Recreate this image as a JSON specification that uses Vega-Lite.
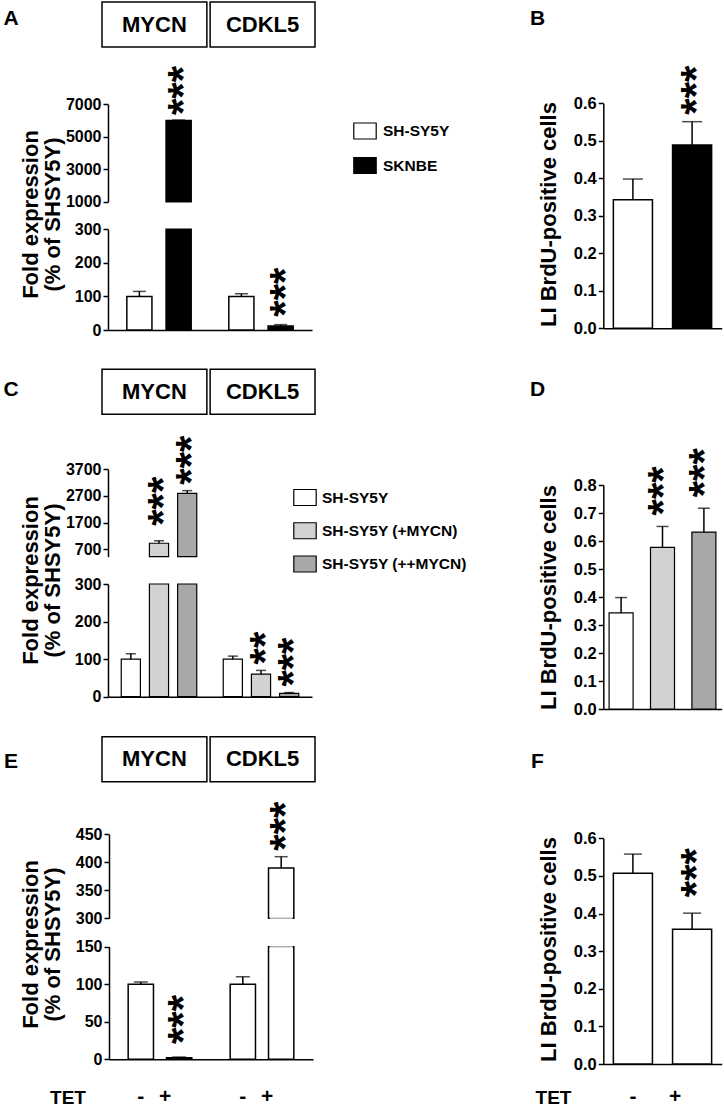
{
"$schema": "https://vega.github.io/schema/vega-lite/v6.json",
"width": 724, "height": 1111,
"autosize": {"type": "none"},
"padding": 0,
"background": "white",
"config": {
  "font": "Liberation Sans",
  "view": {"stroke": null},
  "axis": {"domainColor": "#000", "domainWidth": 1.5, "tickColor": "#000", "tickWidth": 1.5, "tickSize": 5, "labelColor": "#000", "labelFontWeight": "bold", "labelFontSize": 16, "labelPadding": 2, "titleColor": "#000", "titleFontWeight": "bold", "titleFontSize": 22, "grid": false, "labelFlush": false, "labelOverlap": false}
},
"datasets": {
  "A": [
    {"gene": "MYCN", "cell": "SH-SY5Y", "value": 100, "errTop": 115, "sig": ""},
    {"gene": "MYCN", "cell": "SKNBE", "value": 6000, "errTop": 6030, "sig": "***"},
    {"gene": "CDKL5", "cell": "SH-SY5Y", "value": 100, "errTop": 108, "sig": ""},
    {"gene": "CDKL5", "cell": "SKNBE", "value": 12, "errTop": 16, "sig": "***"}
  ],
  "B": [
    {"cell": "SH-SY5Y", "value": 0.343, "errTop": 0.398, "sig": ""},
    {"cell": "SKNBE", "value": 0.489, "errTop": 0.551, "sig": "***"}
  ],
  "C": [
    {"gene": "MYCN", "cell": "SH-SY5Y", "value": 100, "errTop": 114, "sig": ""},
    {"gene": "MYCN", "cell": "SH-SY5Y (+MYCN)", "value": 925, "errTop": 1020, "sig": "***"},
    {"gene": "MYCN", "cell": "SH-SY5Y (++MYCN)", "value": 2800, "errTop": 2900, "sig": "***"},
    {"gene": "CDKL5", "cell": "SH-SY5Y", "value": 100, "errTop": 108, "sig": ""},
    {"gene": "CDKL5", "cell": "SH-SY5Y (+MYCN)", "value": 60, "errTop": 70, "sig": "**"},
    {"gene": "CDKL5", "cell": "SH-SY5Y (++MYCN)", "value": 9, "errTop": 11, "sig": "***"}
  ],
  "D": [
    {"cell": "SH-SY5Y", "value": 0.343, "errTop": 0.398, "sig": ""},
    {"cell": "SH-SY5Y (+MYCN)", "value": 0.577, "errTop": 0.652, "sig": "***"},
    {"cell": "SH-SY5Y (++MYCN)", "value": 0.632, "errTop": 0.717, "sig": "***"}
  ],
  "E": [
    {"gene": "MYCN", "tet": "-", "value": 100, "errTop": 103, "sig": ""},
    {"gene": "MYCN", "tet": "+", "value": 2, "errTop": 3, "sig": "***"},
    {"gene": "CDKL5", "tet": "-", "value": 100, "errTop": 110, "sig": ""},
    {"gene": "CDKL5", "tet": "+", "value": 390, "errTop": 410, "sig": "***"}
  ],
  "F": [
    {"tet": "-", "value": 0.507, "errTop": 0.558, "sig": ""},
    {"tet": "+", "value": 0.358, "errTop": 0.401, "sig": "***"}
  ],
  "headers": [
    {"row": "1", "gene": "MYCN"}, {"row": "1", "gene": "CDKL5"},
    {"row": "2", "gene": "MYCN"}, {"row": "2", "gene": "CDKL5"},
    {"row": "3", "gene": "MYCN"}, {"row": "3", "gene": "CDKL5"}
  ],
  "letters": [
    {"letter": "A", "col": "L", "row": "1"}, {"letter": "B", "col": "R", "row": "1"},
    {"letter": "C", "col": "L", "row": "2"}, {"letter": "D", "col": "R", "row": "2"},
    {"letter": "E", "col": "L", "row": "3"}, {"letter": "F", "col": "R", "row": "3"}
  ]
},
"layer": [
  {
    "data": {"name": "letters"},
    "mark": {"type": "text", "fontSize": 21, "fontWeight": "bold", "color": "black", "align": "center", "baseline": "middle"},
    "encoding": {
      "x": {"field": "col", "type": "nominal", "scale": {"type": "point", "domain": ["L", "R"], "range": [11, 537.5], "padding": 0}, "axis": null},
      "y": {"field": "row", "type": "nominal", "scale": {"type": "point", "domain": ["1", "2", "3"], "range": [19, 761.7], "padding": 0}, "axis": null},
      "text": {"field": "letter"}
    }
  },
  {
    "data": {"name": "headers"},
    "encoding": {
      "x": {"field": "gene", "type": "nominal", "scale": {"type": "band", "domain": ["MYCN", "CDKL5"], "range": [102, 315], "paddingInner": 0.03, "paddingOuter": 0}, "axis": null},
      "y": {"field": "row", "type": "nominal", "scale": {"type": "band", "domain": ["1", "2", "3"], "range": [2, 781.7], "paddingInner": 0.8775, "paddingOuter": 0}, "axis": null}
    },
    "layer": [
      {"mark": {"type": "rect", "fill": "white", "stroke": "black", "strokeWidth": 1.5}},
      {"mark": {"type": "text", "fontSize": 22, "fontWeight": "bold", "color": "black", "align": "center", "baseline": "middle"}, "encoding": {"text": {"field": "gene"}}}
    ]
  },
  {
    "data": {"name": "A"},
    "transform": [{"filter": "datum.value > 1000"}],
    "encoding": {
      "x": {"field": "gene", "type": "nominal", "scale": {"type": "band", "domain": ["MYCN", "CDKL5"], "range": [108, 312], "paddingInner": 0, "paddingOuter": 0}, "axis": null},
      "xOffset": {"field": "cell", "type": "nominal", "scale": {"type": "band", "domain": ["SH-SY5Y", "SKNBE"], "paddingInner": 0.36, "paddingOuter": 0.48}}
    },
    "layer": [
      {"mark": {"type": "bar", "stroke": "black", "strokeWidth": 1.5},
       "encoding": {
         "y": {"field": "value", "type": "quantitative", "scale": {"domain": [1000, 7000], "range": [201.7, 104.3], "nice": false, "zero": false}, "axis": {"orient": "left", "offset": -108, "values": [1000, 3000, 5000, 7000], "format": "d", "title": null}},
         "y2": {"datum": 1000},
         "fill": {"field": "cell", "type": "nominal", "scale": {"domain": ["SH-SY5Y", "SKNBE"], "range": ["white", "black"]}, "legend": null}
       }},
      {"mark": {"type": "rule", "color": "black", "strokeWidth": 1.5}, "encoding": {"y": {"field": "value", "type": "quantitative"}, "y2": {"field": "errTop"}}},
      {"mark": {"type": "tick", "orient": "horizontal", "size": 13, "thickness": 1.5, "color": "black"}, "encoding": {"y": {"field": "errTop", "type": "quantitative"}}},
      {"transform": [{"filter": "datum.sig != ''"}],
       "mark": {"type": "text", "angle": 270, "align": "left", "baseline": "middle", "dx": 5, "dy": 5, "fontSize": 42, "fontWeight": "bold", "color": "black"},
       "encoding": {"y": {"field": "errTop", "type": "quantitative"}, "text": {"field": "sig"}}}
    ]
  },
  {
    "data": {"name": "A"},
    "encoding": {
      "x": {"field": "gene", "type": "nominal", "scale": {"type": "band", "domain": ["MYCN", "CDKL5"], "range": [108, 312], "paddingInner": 0, "paddingOuter": 0}, "axis": {"orient": "bottom", "offset": -781, "labels": false, "ticks": false, "title": null}},
      "xOffset": {"field": "cell", "type": "nominal", "scale": {"type": "band", "domain": ["SH-SY5Y", "SKNBE"], "paddingInner": 0.36, "paddingOuter": 0.48}}
    },
    "layer": [
      {"mark": {"type": "bar", "stroke": "black", "strokeWidth": 1.5},
       "encoding": {
         "y": {"field": "value", "type": "quantitative", "scale": {"domain": [0, 300], "range": [330, 229.3], "nice": false, "clamp": true}, "axis": {"orient": "left", "offset": -108, "values": [0, 100, 200, 300], "format": "d", "title": ["Fold expression", "(% of SHSY5Y)"], "titleX": -78, "titleY": 214, "titleAngle": 270, "titleAlign": "center", "titleBaseline": "middle", "titleLineHeight": 22}},
         "fill": {"field": "cell", "type": "nominal", "scale": {"domain": ["SH-SY5Y", "SKNBE"], "range": ["white", "black"]},
           "legend": {"orient": "none", "legendX": 356, "legendY": 122, "title": null, "padding": 0, "symbolType": "M-1.4,-1L1.4,-1L1.4,1L-1.4,1Z", "symbolSize": 256, "symbolStrokeColor": "black", "symbolStrokeWidth": 1.2, "labelFontSize": 15.5, "labelFontWeight": "bold", "labelColor": "black", "labelOffset": 9, "rowPadding": 12.5}}
       }},
      {"transform": [{"filter": "datum.errTop <= 300"}], "mark": {"type": "rule", "color": "black", "strokeWidth": 1.5}, "encoding": {"y": {"field": "value", "type": "quantitative"}, "y2": {"field": "errTop"}}},
      {"transform": [{"filter": "datum.errTop <= 300"}], "mark": {"type": "tick", "orient": "horizontal", "size": 13, "thickness": 1.5, "color": "black"}, "encoding": {"y": {"field": "errTop", "type": "quantitative"}}},
      {"transform": [{"filter": "datum.sig != '' && datum.errTop <= 300"}],
       "mark": {"type": "text", "angle": 270, "align": "left", "baseline": "middle", "dx": 8, "dy": 5, "fontSize": 42, "fontWeight": "bold", "color": "black"},
       "encoding": {"y": {"field": "errTop", "type": "quantitative"}, "text": {"field": "sig"}}}
    ]
  },
  {
    "data": {"name": "B"},
    "encoding": {
      "x": {"field": "cell", "type": "nominal", "scale": {"type": "band", "domain": ["SH-SY5Y", "SKNBE"], "range": [603.3, 721.7], "paddingInner": 0.34, "paddingOuter": 0.17}, "axis": {"orient": "bottom", "offset": -782.7, "labels": false, "ticks": false, "title": null}}
    },
    "layer": [
      {"mark": {"type": "bar", "stroke": "black", "strokeWidth": 1.5},
       "encoding": {
         "y": {"field": "value", "type": "quantitative", "scale": {"domain": [0, 0.6], "range": [328.3, 103.3], "nice": false}, "axis": {"orient": "left", "offset": -603.3, "values": [0, 0.1, 0.2, 0.3, 0.4, 0.5, 0.6], "format": ".1f", "labelFontSize": 16.5, "title": "LI BrdU-positive cells", "titleX": -55, "titleY": 214, "titleAngle": 270, "titleAlign": "center", "titleBaseline": "middle"}},
         "fill": {"field": "cell", "type": "nominal", "scale": {"domain": ["SH-SY5Y", "SKNBE"], "range": ["white", "black"]}, "legend": null}
       }},
      {"mark": {"type": "rule", "color": "black", "strokeWidth": 1.5}, "encoding": {"y": {"field": "value", "type": "quantitative"}, "y2": {"field": "errTop"}}},
      {"mark": {"type": "tick", "orient": "horizontal", "size": 20, "thickness": 1.5, "color": "black"}, "encoding": {"y": {"field": "errTop", "type": "quantitative"}}},
      {"transform": [{"filter": "datum.sig != ''"}],
       "mark": {"type": "text", "angle": 270, "align": "left", "baseline": "middle", "dx": 7, "dy": 5, "fontSize": 42, "fontWeight": "bold", "color": "black"},
       "encoding": {"y": {"field": "errTop", "type": "quantitative"}, "text": {"field": "sig"}}}
    ]
  },
  {
    "data": {"name": "C"},
    "transform": [{"filter": "datum.value > 425"}],
    "encoding": {
      "x": {"field": "gene", "type": "nominal", "scale": {"type": "band", "domain": ["MYCN", "CDKL5"], "range": [108, 312], "paddingInner": 0, "paddingOuter": 0}, "axis": null},
      "xOffset": {"field": "cell", "type": "nominal", "scale": {"type": "band", "domain": ["SH-SY5Y", "SH-SY5Y (+MYCN)", "SH-SY5Y (++MYCN)"], "paddingInner": 0.32, "paddingOuter": 0.47}}
    },
    "layer": [
      {"mark": {"type": "bar", "stroke": "black", "strokeWidth": 1.2},
       "encoding": {
         "y": {"field": "value", "type": "quantitative", "scale": {"domain": [425, 3700], "range": [556.6, 469.3], "nice": false, "zero": false}, "axis": {"orient": "left", "offset": -108, "values": [700, 1700, 2700, 3700], "format": "d", "title": null}},
         "y2": {"datum": 425},
         "fill": {"field": "cell", "type": "nominal", "scale": {"domain": ["SH-SY5Y", "SH-SY5Y (+MYCN)", "SH-SY5Y (++MYCN)"], "range": ["white", "#d2d2d2", "#a8a8a8"]}, "legend": null}
       }},
      {"mark": {"type": "rule", "color": "black", "strokeWidth": 1.5}, "encoding": {"y": {"field": "value", "type": "quantitative"}, "y2": {"field": "errTop"}}},
      {"mark": {"type": "tick", "orient": "horizontal", "size": 10, "thickness": 1.5, "color": "black"}, "encoding": {"y": {"field": "errTop", "type": "quantitative"}}},
      {"transform": [{"filter": "datum.cell == 'SH-SY5Y (+MYCN)'"}],
       "mark": {"type": "text", "angle": 270, "align": "left", "baseline": "middle", "dx": 15, "dy": 5, "fontSize": 42, "fontWeight": "bold", "color": "black"},
       "encoding": {"y": {"field": "errTop", "type": "quantitative"}, "text": {"field": "sig"}}},
      {"transform": [{"filter": "datum.cell == 'SH-SY5Y (++MYCN)'"}],
       "mark": {"type": "text", "angle": 270, "align": "left", "baseline": "middle", "dx": 6, "dy": 5, "fontSize": 42, "fontWeight": "bold", "color": "black"},
       "encoding": {"y": {"field": "errTop", "type": "quantitative"}, "text": {"field": "sig"}}}
    ]
  },
  {
    "data": {"name": "C"},
    "encoding": {
      "x": {"field": "gene", "type": "nominal", "scale": {"type": "band", "domain": ["MYCN", "CDKL5"], "range": [108, 312], "paddingInner": 0, "paddingOuter": 0}, "axis": {"orient": "bottom", "offset": -414.3, "labels": false, "ticks": false, "title": null}},
      "xOffset": {"field": "cell", "type": "nominal", "scale": {"type": "band", "domain": ["SH-SY5Y", "SH-SY5Y (+MYCN)", "SH-SY5Y (++MYCN)"], "paddingInner": 0.32, "paddingOuter": 0.47}}
    },
    "layer": [
      {"mark": {"type": "bar", "stroke": "black", "strokeWidth": 1.2},
       "encoding": {
         "y": {"field": "value", "type": "quantitative", "scale": {"domain": [0, 300], "range": [696.7, 584], "nice": false, "clamp": true}, "axis": {"orient": "left", "offset": -108, "values": [0, 100, 200, 300], "format": "d", "title": ["Fold expression", "(% of SHSY5Y)"], "titleX": -78, "titleY": 580, "titleAngle": 270, "titleAlign": "center", "titleBaseline": "middle", "titleLineHeight": 22}},
         "fill": {"field": "cell", "type": "nominal", "scale": {"domain": ["SH-SY5Y", "SH-SY5Y (+MYCN)", "SH-SY5Y (++MYCN)"], "range": ["white", "#d2d2d2", "#a8a8a8"]},
           "legend": {"orient": "none", "legendX": 296, "legendY": 488.5, "title": null, "padding": 0, "symbolType": "M-1.4,-1L1.4,-1L1.4,1L-1.4,1Z", "symbolSize": 256, "symbolStrokeColor": "black", "symbolStrokeWidth": 1.2, "labelFontSize": 15.5, "labelFontWeight": "bold", "labelColor": "black", "labelOffset": 8, "rowPadding": 11.25}}
       }},
      {"transform": [{"filter": "datum.errTop <= 300"}], "mark": {"type": "rule", "color": "black", "strokeWidth": 1.5}, "encoding": {"y": {"field": "value", "type": "quantitative"}, "y2": {"field": "errTop"}}},
      {"transform": [{"filter": "datum.errTop <= 300"}], "mark": {"type": "tick", "orient": "horizontal", "size": 10, "thickness": 1.5, "color": "black"}, "encoding": {"y": {"field": "errTop", "type": "quantitative"}}},
      {"transform": [{"filter": "datum.sig != '' && datum.errTop <= 300"}],
       "mark": {"type": "text", "angle": 270, "align": "left", "baseline": "middle", "dx": 6, "dy": 5, "fontSize": 42, "fontWeight": "bold", "color": "black"},
       "encoding": {"y": {"field": "errTop", "type": "quantitative"}, "text": {"field": "sig"}}}
    ]
  },
  {
    "data": {"name": "D"},
    "encoding": {
      "x": {"field": "cell", "type": "nominal", "scale": {"type": "band", "domain": ["SH-SY5Y", "SH-SY5Y (+MYCN)", "SH-SY5Y (++MYCN)"], "range": [603.3, 721.7], "paddingInner": 0.42, "paddingOuter": 0.14}, "axis": {"orient": "bottom", "offset": -402, "labels": false, "ticks": false, "title": null}}
    },
    "layer": [
      {"mark": {"type": "bar", "stroke": "black", "strokeWidth": 1.2},
       "encoding": {
         "y": {"field": "value", "type": "quantitative", "scale": {"domain": [0, 0.8], "range": [709, 485], "nice": false}, "axis": {"orient": "left", "offset": -603.3, "values": [0, 0.1, 0.2, 0.3, 0.4, 0.5, 0.6, 0.7, 0.8], "format": ".1f", "labelFontSize": 16.5, "title": "LI BrdU-positive cells", "titleX": -55, "titleY": 597, "titleAngle": 270, "titleAlign": "center", "titleBaseline": "middle"}},
         "fill": {"field": "cell", "type": "nominal", "scale": {"domain": ["SH-SY5Y", "SH-SY5Y (+MYCN)", "SH-SY5Y (++MYCN)"], "range": ["white", "#d2d2d2", "#a8a8a8"]}, "legend": null}
       }},
      {"mark": {"type": "rule", "color": "black", "strokeWidth": 1.5}, "encoding": {"y": {"field": "value", "type": "quantitative"}, "y2": {"field": "errTop"}}},
      {"mark": {"type": "tick", "orient": "horizontal", "size": 12, "thickness": 1.5, "color": "black"}, "encoding": {"y": {"field": "errTop", "type": "quantitative"}}},
      {"transform": [{"filter": "datum.sig != ''"}],
       "mark": {"type": "text", "angle": 270, "align": "left", "baseline": "middle", "dx": 11, "dy": 1, "fontSize": 42, "fontWeight": "bold", "color": "black"},
       "encoding": {"y": {"field": "errTop", "type": "quantitative"}, "text": {"field": "sig"}}}
    ]
  },
  {
    "data": {"name": "E"},
    "transform": [{"filter": "datum.value > 300"}],
    "encoding": {
      "x": {"field": "gene", "type": "nominal", "scale": {"type": "band", "domain": ["MYCN", "CDKL5"], "range": [109, 313], "paddingInner": 0, "paddingOuter": 0}, "axis": null},
      "xOffset": {"field": "tet", "type": "nominal", "scale": {"type": "band", "domain": ["-", "+"], "paddingInner": 0.34, "paddingOuter": 0.5}}
    },
    "layer": [
      {"mark": {"type": "bar", "fill": "white", "stroke": "black", "strokeWidth": 1.5},
       "encoding": {
         "y": {"field": "value", "type": "quantitative", "scale": {"domain": [300, 450], "range": [918.3, 834.3], "nice": false, "zero": false}, "axis": {"orient": "left", "offset": -109, "values": [300, 350, 400, 450], "format": "d", "title": null}},
         "y2": {"datum": 300}
       }},
      {"mark": {"type": "tick", "orient": "horizontal", "size": 23, "thickness": 3, "color": "white"}, "encoding": {"y": {"datum": 300, "type": "quantitative"}}},
      {"mark": {"type": "rule", "color": "black", "strokeWidth": 1.5}, "encoding": {"y": {"field": "value", "type": "quantitative"}, "y2": {"field": "errTop"}}},
      {"mark": {"type": "tick", "orient": "horizontal", "size": 13, "thickness": 1.5, "color": "black"}, "encoding": {"y": {"field": "errTop", "type": "quantitative"}}},
      {"transform": [{"filter": "datum.sig != ''"}],
       "mark": {"type": "text", "angle": 270, "align": "left", "baseline": "middle", "dx": 6, "dy": 5, "fontSize": 42, "fontWeight": "bold", "color": "black"},
       "encoding": {"y": {"field": "errTop", "type": "quantitative"}, "text": {"field": "sig"}}}
    ]
  },
  {
    "data": {"name": "E"},
    "encoding": {
      "x": {"field": "gene", "type": "nominal", "scale": {"type": "band", "domain": ["MYCN", "CDKL5"], "range": [109, 313], "paddingInner": 0, "paddingOuter": 0}, "axis": {"orient": "bottom", "offset": -51.7, "labels": false, "ticks": false, "title": "TET", "titleX": 67.5, "titleY": 37.7, "titleAlign": "center", "titleBaseline": "middle", "titleFontSize": 19, "titleAngle": 0}},
      "xOffset": {"field": "tet", "type": "nominal", "scale": {"type": "band", "domain": ["-", "+"], "paddingInner": 0.34, "paddingOuter": 0.5}}
    },
    "layer": [
      {"mark": {"type": "bar", "fill": "white", "stroke": "black", "strokeWidth": 1.5},
       "encoding": {
         "y": {"field": "value", "type": "quantitative", "scale": {"domain": [0, 150], "range": [1059.3, 946.7], "nice": false, "clamp": true}, "axis": {"orient": "left", "offset": -109, "values": [0, 50, 100, 150], "format": "d", "title": ["Fold expression", "(% of SHSY5Y)"], "titleX": -79, "titleY": 944, "titleAngle": 270, "titleAlign": "center", "titleBaseline": "middle", "titleLineHeight": 22}}
       }},
      {"transform": [{"filter": "datum.value > 150"}], "mark": {"type": "tick", "orient": "horizontal", "size": 23, "thickness": 3, "color": "white"}, "encoding": {"y": {"datum": 150, "type": "quantitative"}}},
      {"transform": [{"filter": "datum.errTop <= 150"}], "mark": {"type": "rule", "color": "black", "strokeWidth": 1.5}, "encoding": {"y": {"field": "value", "type": "quantitative"}, "y2": {"field": "errTop"}}},
      {"transform": [{"filter": "datum.errTop <= 150"}], "mark": {"type": "tick", "orient": "horizontal", "size": 14, "thickness": 1.5, "color": "black"}, "encoding": {"y": {"field": "errTop", "type": "quantitative"}}},
      {"transform": [{"filter": "datum.sig != '' && datum.errTop <= 150"}],
       "mark": {"type": "text", "angle": 270, "align": "left", "baseline": "middle", "dx": 13, "dy": 5, "fontSize": 42, "fontWeight": "bold", "color": "black"},
       "encoding": {"y": {"field": "errTop", "type": "quantitative"}, "text": {"field": "sig"}}},
      {"transform": [{"filter": "datum.tet == '-'"}],
       "mark": {"type": "text", "align": "center", "baseline": "middle", "dy": 37.7, "fontSize": 21, "fontWeight": "bold", "color": "black"},
       "encoding": {"y": {"datum": 0, "type": "quantitative"}, "text": {"field": "tet"}}},
      {"transform": [{"filter": "datum.tet == '+'"}],
       "mark": {"type": "text", "align": "center", "baseline": "middle", "dx": -14, "dy": 37.7, "fontSize": 21, "fontWeight": "bold", "color": "black"},
       "encoding": {"y": {"datum": 0, "type": "quantitative"}, "text": {"field": "tet"}}}
    ]
  },
  {
    "data": {"name": "F"},
    "encoding": {
      "x": {"field": "tet", "type": "nominal", "scale": {"type": "band", "domain": ["-", "+"], "range": [603.3, 721.7], "paddingInner": 0.34, "paddingOuter": 0.17}, "axis": {"orient": "bottom", "offset": -47, "labels": false, "ticks": false, "title": "TET", "titleX": 553, "titleY": 33, "titleAlign": "center", "titleBaseline": "middle", "titleFontSize": 19, "titleAngle": 0}}
    },
    "layer": [
      {"mark": {"type": "bar", "fill": "white", "stroke": "black", "strokeWidth": 1.5},
       "encoding": {
         "y": {"field": "value", "type": "quantitative", "scale": {"domain": [0, 0.6], "range": [1064, 838.3], "nice": false}, "axis": {"orient": "left", "offset": -603.3, "values": [0, 0.1, 0.2, 0.3, 0.4, 0.5, 0.6], "format": ".1f", "labelFontSize": 16.5, "title": "LI BrdU-positive cells", "titleX": -55, "titleY": 949, "titleAngle": 270, "titleAlign": "center", "titleBaseline": "middle"}}
       }},
      {"mark": {"type": "rule", "color": "black", "strokeWidth": 1.5}, "encoding": {"y": {"field": "value", "type": "quantitative"}, "y2": {"field": "errTop"}}},
      {"mark": {"type": "tick", "orient": "horizontal", "size": 18, "thickness": 1.5, "color": "black"}, "encoding": {"y": {"field": "errTop", "type": "quantitative"}}},
      {"transform": [{"filter": "datum.sig != ''"}],
       "mark": {"type": "text", "angle": 270, "align": "left", "baseline": "middle", "dx": 16, "dy": 5, "fontSize": 42, "fontWeight": "bold", "color": "black"},
       "encoding": {"y": {"field": "errTop", "type": "quantitative"}, "text": {"field": "sig"}}},
      {"transform": [{"filter": "datum.tet == '-'"}],
       "mark": {"type": "text", "align": "center", "baseline": "middle", "dy": 33, "fontSize": 21, "fontWeight": "bold", "color": "black"},
       "encoding": {"y": {"datum": 0, "type": "quantitative"}, "text": {"field": "tet"}}},
      {"transform": [{"filter": "datum.tet == '+'"}],
       "mark": {"type": "text", "align": "center", "baseline": "middle", "dx": -17, "dy": 33, "fontSize": 21, "fontWeight": "bold", "color": "black"},
       "encoding": {"y": {"datum": 0, "type": "quantitative"}, "text": {"field": "tet"}}}
    ]
  }
],
"resolve": {
  "scale": {"x": "independent", "y": "independent", "xOffset": "independent", "fill": "independent"},
  "axis": {"x": "independent", "y": "independent"},
  "legend": {"fill": "independent"}
}
}
